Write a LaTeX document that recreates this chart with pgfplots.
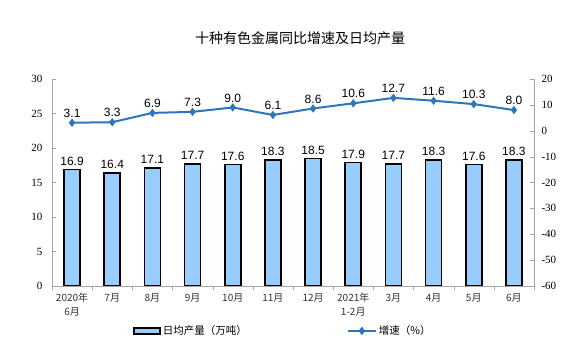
\documentclass[border=0pt]{standalone}
\usepackage{pgfplots}
\pgfplotsset{compat=1.18}
\usepackage{fontspec}
\setmainfont{Liberation Sans}
\newfontfamily\cjk{Noto Sans CJK SC}
\newfontfamily\serif{Liberation Serif}
\definecolor{barblue}{RGB}{153,204,255}
\definecolor{lineblue}{RGB}{46,117,190}
\definecolor{axgray}{RGB}{166,166,166}
\begin{document}
\begin{tikzpicture}
\useasboundingbox (0pt,0pt) rectangle (575pt,355pt);
\node[font=\cjk\fontsize{14}{16}\selectfont] at (300pt,317pt) {十种有色金属同比增速及日均产量};
\begin{axis}[
  at={(52pt,69pt)}, anchor=south west,
  scale only axis, width=482pt, height=207pt,
  xmin=-0.5, xmax=11.5, ymin=0, ymax=30,
  axis y line*=left, axis x line*=bottom,
  axis line style={axgray, line width=0.8pt},
  xtick={0,...,11},
  xticklabels={{2020年\\6月},7月,8月,9月,10月,11月,12月,{2021年\\1-2月},3月,4月,5月,6月},
  major x tick style={draw=none},
  minor xtick={-0.5,0.5,...,11.5},
  minor x tick style={axgray},
  minor tick length=4pt, major tick length=4pt,
  ytick={0,5,...,30}, ytick style={axgray},
  xticklabel style={font=\cjk\fontsize{10}{14}\selectfont, align=center, text=black!80},
  yticklabel style={font=\serif\fontsize{11}{12}\selectfont, xshift=-6pt},
  /pgf/number format/assume math mode=true,
  ybar, bar width=16pt,
  nodes near coords={\pgfmathprintnumber[fixed,fixed zerofill,precision=1]{\pgfplotspointmeta}},
  nodes near coords style={font=\fontsize{12}{14}\selectfont, black},
]
\addplot[fill=barblue, draw=black, line width=1.6pt] coordinates {
(0,16.9) (1,16.4) (2,17.1) (3,17.7) (4,17.6) (5,18.3) (6,18.5) (7,17.9) (8,17.7) (9,18.3) (10,17.6) (11,18.3)};
\end{axis}
\begin{axis}[
  at={(52pt,69pt)}, anchor=south west,
  scale only axis, width=482pt, height=207pt,
  xmin=-0.5, xmax=11.5, ymin=-60, ymax=20,
  axis y line*=right, axis x line=none,
  axis line style={axgray, line width=0.8pt},
  ytick={-60,-50,...,20}, ytick style={axgray}, major tick length=4pt,
  yticklabel style={font=\serif\fontsize{11}{12}\selectfont, xshift=4pt},
  /pgf/number format/assume math mode=true,
  legend style={at={(0.162,-0.217)}, anchor=west, draw=none, fill=none,
    legend columns=2, font=\cjk\fontsize{10.5}{12}\selectfont,
    /tikz/every even column/.append style={column sep=98pt}},
]
\addlegendimage{legend image code/.code={\draw[fill=barblue,draw=black,line width=1.6pt] (0pt,-3pt) rectangle (26pt,3pt);}}
\addlegendentry{日均产量（万吨）}
\addplot[lineblue, line width=2pt, mark=diamond*, mark size=2.6pt,
  legend image code/.code={\draw[mark repeat=2,mark phase=2] plot coordinates {(0pt,0pt)(14pt,0pt)(28pt,0pt)};},
  nodes near coords={\pgfmathprintnumber[fixed,fixed zerofill,precision=1]{\pgfplotspointmeta}},
  nodes near coords style={font=\fontsize{12}{14}\selectfont, black, yshift=1pt}] coordinates {
(0,3.1) (1,3.3) (2,6.9) (3,7.3) (4,9.0) (5,6.1) (6,8.6) (7,10.6) (8,12.7) (9,11.6) (10,10.3) (11,8.0)};
\addlegendentry{增速（\%）}
\end{axis}
\end{tikzpicture}
\end{document}
